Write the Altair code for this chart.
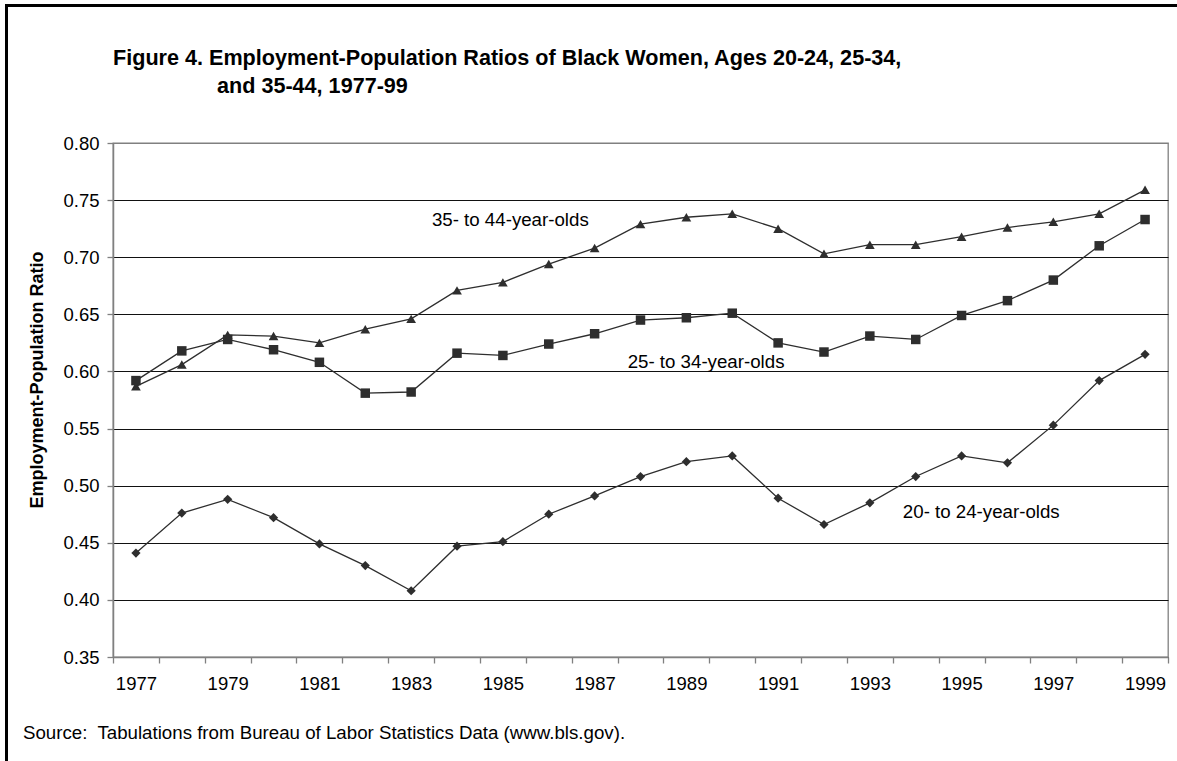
import altair as alt
import pandas as pd

# Employment-population ratios of Black women, 1977-99
years = list(range(1977, 2000))
ratio_35_44 = [0.587, 0.606, 0.632, 0.631, 0.625, 0.637, 0.646, 0.671, 0.678, 0.694,
               0.708, 0.729, 0.735, 0.738, 0.725, 0.703, 0.711, 0.711, 0.718, 0.726,
               0.731, 0.738, 0.759]
ratio_25_34 = [0.592, 0.618, 0.628, 0.619, 0.608, 0.581, 0.582, 0.616, 0.614, 0.624,
               0.633, 0.645, 0.647, 0.651, 0.625, 0.617, 0.631, 0.628, 0.649, 0.662,
               0.680, 0.710, 0.733]
ratio_20_24 = [0.441, 0.476, 0.488, 0.472, 0.449, 0.430, 0.408, 0.447, 0.451, 0.475,
               0.491, 0.508, 0.521, 0.526, 0.489, 0.466, 0.485, 0.508, 0.526, 0.520,
               0.553, 0.592, 0.615]

series_names = ["35- to 44-year-olds", "25- to 34-year-olds", "20- to 24-year-olds"]
series_shapes = ["triangle-up", "square", "diamond"]
series_sizes = [95, 85, 60]
y_ticks = [0.35, 0.40, 0.45, 0.50, 0.55, 0.60, 0.65, 0.70, 0.75, 0.80]

# In-plot series labels: anchor year, ratio and horizontal nudge
label_years = [1985, 1987, 1993]
label_ratios = [0.7326, 0.6083, 0.4772]
label_dx = [-71, 33, 33]

title_lines = [
    "Figure 4. Employment-Population Ratios of Black Women, Ages 20-24, 25-34,",
    "and 35-44, 1977-99",
]
y_title = "Employment-Population Ratio"
source_note = "Source:\u00a0 Tabulations from Bureau of Labor Statistics Data (www.bls.gov)."

FONT = "Liberation Sans"
INK = "#2e2e2e"
FRAME_GRAY = "#808080"

W, H = 1055, 514
PAD = {"left": 113, "top": 143, "right": 9, "bottom": 104}

rows = []
for name, vals in zip(series_names, [ratio_35_44, ratio_25_34, ratio_20_24]):
    for yr, v in zip(years, vals):
        rows.append({"year": yr, "ratio": v, "series": name})
df = pd.DataFrame(rows)

x_enc = alt.X(
    "year:O",
    scale=alt.Scale(type="band", paddingInner=0, paddingOuter=0),
    axis=alt.Axis(
        title="",
        labelAngle=0,
        labelExpr="(datum.value - 1977) % 2 == 0 ? datum.label : ''",
        tickBand="extent",
        tickSize=6,
        tickColor=FRAME_GRAY,
        tickWidth=1.3,
        domainColor=FRAME_GRAY,
        domainWidth=1.5,
        labelFont=FONT,
        labelFontSize=18.5,
        labelColor="black",
        labelPadding=11,
        grid=False,
    ),
)
y_enc = alt.Y(
    "ratio:Q",
    scale=alt.Scale(domain=[0.35, 0.80], nice=False, zero=False),
    axis=alt.Axis(
        title="",
        values=y_ticks,
        format=".2f",
        tickSize=6,
        tickColor=FRAME_GRAY,
        tickWidth=1.3,
        domainColor=FRAME_GRAY,
        domainWidth=1.5,
        labelFont=FONT,
        labelFontSize=18.5,
        labelColor="black",
        labelPadding=8,
        grid=True,
        gridColor={"condition": {"test": "datum.value > 0.79", "value": FRAME_GRAY},
                   "value": "#111111"},
        gridWidth=1,
    ),
)

shape_scale = alt.Scale(domain=series_names, range=series_shapes)
size_scale = alt.Scale(domain=series_names, range=series_sizes)

lines = alt.Chart(df).mark_line(color=INK, strokeWidth=1.3).encode(
    x=x_enc, y=y_enc, detail="series:N"
)
points = alt.Chart(df).mark_point(filled=True, color=INK, opacity=1).encode(
    x=alt.X("year:O"),
    y=alt.Y("ratio:Q"),
    shape=alt.Shape("series:N", scale=shape_scale, legend=None),
    size=alt.Size("series:N", scale=size_scale, legend=None),
)

labels_df = pd.DataFrame({"year": label_years, "ratio": label_ratios,
                          "text": series_names, "dx": label_dx})
series_labels = [
    alt.Chart(labels_df.iloc[[i]]).mark_text(
        align="left", baseline="middle", font=FONT, fontSize=18.7,
        color="black", dx=int(label_dx[i])
    ).encode(x=alt.X("year:O"), y=alt.Y("ratio:Q"), text="text:N")
    for i in range(len(label_years))
]

one = pd.DataFrame({"k": [0]})

title1 = alt.Chart(one).mark_text(
    align="left", baseline="alphabetic", font=FONT, fontSize=21.6,
    fontWeight="bold", color="black", text=title_lines[0]
).encode(x=alt.value(0), y=alt.value(-78))
title2 = alt.Chart(one).mark_text(
    align="left", baseline="alphabetic", font=FONT, fontSize=21.6,
    fontWeight="bold", color="black", text=title_lines[1]
).encode(x=alt.value(104), y=alt.value(-50))

ytitle = alt.Chart(one).mark_text(
    align="center", baseline="middle", angle=270, font=FONT, fontSize=18,
    fontWeight="bold", color="black", text=y_title
).encode(x=alt.value(-75), y=alt.value(237))

source = alt.Chart(one).mark_text(
    align="left", baseline="middle", font=FONT, fontSize=18.7,
    color="black", text=source_note
).encode(x=alt.value(-90), y=alt.value(590))

# Outer frame: heavy rules along the top and left edges of the figure
frame_top = alt.Chart(one).mark_rule(color="black", strokeWidth=3).encode(
    x=alt.value(-108), x2=alt.value(1064), y=alt.value(-137.5)
)
frame_left = alt.Chart(one).mark_rule(color="black", strokeWidth=3).encode(
    x=alt.value(-106.5), y=alt.value(-139), y2=alt.value(618)
)

chart = alt.layer(
    lines, points, *series_labels, title1, title2, ytitle, source,
    frame_top, frame_left
).properties(
    width=W, height=H,
    autosize=alt.AutoSizeParams(type="none"),
    padding=PAD,
    background="white",
).configure_view(
    stroke=FRAME_GRAY, strokeWidth=1.3
)

chart.save("out.html", embed_options={"renderer": "svg", "actions": False})
